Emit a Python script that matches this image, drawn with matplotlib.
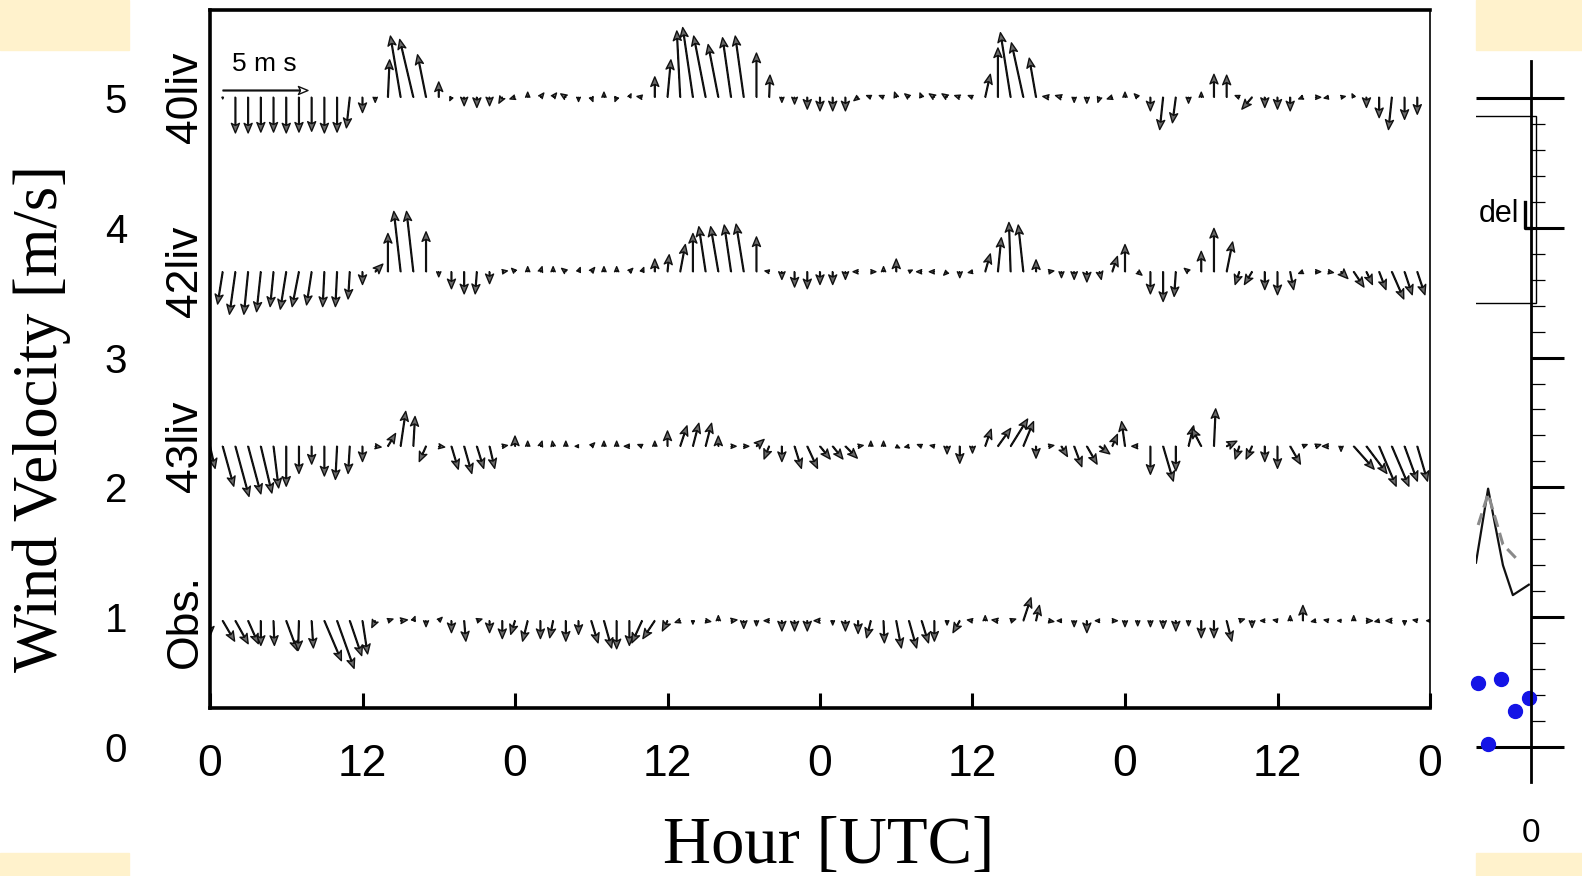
import numpy as np
import matplotlib
matplotlib.use('Agg')
import matplotlib.pyplot as plt
from matplotlib.patches import Rectangle

plt.rcParams['font.family'] = ['Liberation Sans', 'DejaVu Sans']

# hourly wind vectors (u east, v north) in m/s for each run
hours_40 = np.arange(1, 96)
u_40 = [0, 0, 0, 0, 0, 0, 0, 0, 0, 0,
        -0.2, 0, 0, 0.1, -0.6, -0.8, -0.5, 0, -0.1, 0,
        0, 0, -0.2, -0.3, 0, 0.2, 0.2, -0.3, 0, 0.1,
        0, -0.1, 0.1, -0.3, 0, 0.2, -0.2, -0.6, -0.7, -0.6,
        -0.5, -0.5, 0, 0.05, 0, 0, 0, 0, 0, 0,
        -0.25, -0.25, -0.25, -0.1, -0.25, -0.1, -0.3, -0.3, -0.3, -0.25,
        0.3, 0, -0.6, -0.7, -0.4, -0.35, -0.35, 0, 0, -0.1,
        -0.3, 0, -0.2, 0, -0.2, -0.2, 0, 0, 0, 0,
        -0.25, -0.6, 0, 0, 0, -0.25, 0.3, -0.25, 0.25, -0.1,
        0, 0, -0.2, 0, 0]
v_40 = [-0.1, -2.1, -2.1, -2.05, -2.05, -2.1, -2.05, -2.0, -2.1, -2.05,
        -1.8, -0.9, -0.3, 2.2, 3.6, 3.4, 2.5, 0.9, -0.2, -0.5,
        -0.6, -0.5, -0.35, -0.1, 0.3, 0.25, 0.25, 0.2, -0.25, -0.25,
        0.3, -0.25, 0.2, 0.05, 1.2, 2.2, 3.9, 4.1, 3.6, 3.1,
        3.5, 3.6, 2.6, 1.3, -0.3, -0.4, -0.7, -0.8, -0.8, -0.8,
        -0.2, 0.1, 0.1, 0.3, 0.2, 0.25, 0.2, 0.2, 0.1, 0.1,
        1.35, 2.9, 3.8, 3.2, 2.3, 0.05, 0.1, -0.3, -0.35, -0.3,
        -0.1, 0.3, 0.2, -0.8, -1.9, -1.5, -0.35, 0.3, 1.35, 1.3,
        0.1, -0.7, -0.6, -0.7, -0.8, -0.1, 0, -0.05, 0.05, 0.2,
        -0.6, -1.2, -1.9, -1.3, -1.0]

hours_42 = np.arange(1, 96)
u_42 = [-0.3, -0.35, -0.25, -0.25, -0.2, -0.35, -0.4, -0.3, -0.1, -0.1,
        -0.1, 0, 0.45, 0, -0.4, -0.4, 0, 0, 0, 0,
        -0.1, 0, 0.3, -0.2, 0, 0.1, 0, -0.25, 0.1, 0.2,
        0, 0, 0.2, 0.1, 0, 0.1, 0.3, 0, -0.4, -0.45,
        -0.4, -0.45, 0, -0.25, 0, 0, 0, 0, 0, 0,
        -0.3, 0.3, 0, 0, 0.2, -0.3, -0.3, -0.2, 0, -0.25,
        0.3, 0.2, -0.1, -0.3, 0, 0.3, 0, 0, 0, 0.1,
        0.3, 0, 0.25, 0, 0, -0.1, -0.25, 0, 0, 0.35,
        -0.25, -0.45, 0, 0, 0.2, -0.25, 0.3, 0.3, 0.4, 0.6,
        0.35, 0.4, 0.7, 0.45, 0.45]
v_42 = [-1.9, -2.5, -2.5, -2.35, -2.05, -2.2, -2.05, -1.95, -2.05, -2.05,
        -1.6, -0.75, 0.45, 2.25, 3.55, 3.55, 2.35, -0.3, -1.0, -1.3,
        -1.3, -0.7, 0.05, 0.2, 0.3, 0.3, 0.3, 0.2, 0.25, 0.25,
        0.3, 0.3, 0.2, 0.25, 0.75, 1.0, 1.6, 2.25, 2.65, 2.65,
        2.75, 2.8, 2.05, 0.05, -0.45, -0.9, -1.0, -0.75, -0.75, -0.45,
        0, 0, 0.3, 0.75, 0.1, 0, 0, -0.2, -0.35, -0.05,
        1.05, 2.0, 2.9, 2.75, 0.7, 0.05, -0.35, -0.45, -0.6, -0.45,
        0.9, 1.6, -0.2, -1.3, -1.75, -1.45, 0.2, 1.2, 2.55, 1.75,
        -0.75, -0.75, -1.05, -1.35, -1.05, -0.1, 0, -0.05, -0.4, -0.9,
        -0.75, -1.05, -1.6, -1.35, -1.35]

hours_43 = np.arange(0, 96)
u_43 = [0.3, 0.65, 0.8, 0.75, 0.65, 0.3, 0, 0, 0, 0,
        -0.1, -0.1, 0, 0.35, 0.45, 0.3, 0.1, -0.4, 0.35, 0.4,
        0.45, 0.4, 0.3, 0.3, 0, 0, 0.1, -0.05, 0, -0.2,
        0.2, 0, 0, -0.3, -0.25, 0, 0, 0.4, 0.35, 0.35,
        0, 0.3, 0.3, 0.45, -0.3, 0, 0.4, 0.6, 0.6, 0.6,
        0.7, 0.3, 0, 0, 0.2, -0.25, -0.25, -0.25, 0, 0,
        0, 0.35, 0.75, 1.0, 0.6, 0, 0.3, 0.35, 0.45, 0.6,
        0.6, 0.3, -0.2, -0.35, 0, 0.6, 0, 0.3, -0.55, 0.1,
        0.6, -0.25, -0.35, 0, 0, 0.6, 0.25, 0.3, -0.35, 0,
        1.2, 1.2, 1.0, 1.0, 0.75, 0.6]
v_43 = [-1.3, -2.35, -2.95, -2.8, -2.75, -2.45, -2.35, -1.6, -1.05, -1.75,
        -1.95, -1.6, -0.9, -0.05, 0.75, 2.05, 1.75, -0.9, -0.05, -1.35,
        -1.6, -1.3, -1.3, 0.05, 0.6, 0.3, 0.3, 0.3, 0.3, 0,
        0.2, 0.3, 0.3, 0, 0.1, 0.3, 0.9, 1.2, 1.35, 1.35,
        0.6, 0, 0, 0.4, -0.75, -0.9, -1.3, -1.3, -0.75, -0.75,
        -0.7, 0.05, 0.3, 0.3, -0.1, -0.05, 0.1, 0.05, -0.45, -1.0,
        -0.4, 1.0, 1.05, 1.6, 1.45, -0.7, 0.05, -0.6, -1.2, -1.05,
        -0.45, 0.7, 1.45, 0, -1.65, -2.05, -1.45, 1.2, 1.05, 2.2,
        0.3, -0.75, -0.75, -0.9, -1.3, -1.05, 0.1, 0.1, 0, -0.3,
        -1.35, -1.6, -2.35, -2.35, -2.05, -2.05]

hours_obs = np.arange(0, 97)
u_obs = [0, 0.7, 0.75, 0.6, 0, 0.05, 0.65, -0.05, 0.1, 1.0,
         1.0, 0.7, 0.3, -0.2, 0.3, 0.4, 0.1, 0, 0.2, 0,
         0.1, 0.3, 0, 0, -0.25, -0.3, 0, -0.2, 0, 0,
         0.4, 0.45, 0, 0, -0.6, -0.7, -0.3, -0.3, 0, 0.3,
         0, 0.35, 0, 0, -0.3, 0, 0, 0, -0.35, 0,
         0, 0, -0.25, 0.05, 0.3, 0.45, 0.4, 0, 0, -0.4,
         -0.3, 0, -0.35, 0.3, 0.45, 0.2, 0.3, -0.25, 0, 0,
         -0.25, 0.3, 0, 0, 0, 0, 0, 0, 0, 0,
         0.3, 0.3, 0, -0.25, -0.25, 0, 0, -0.25, -0.25, -0.2,
         0, 0.35, -0.25, -0.35, 0, -0.25, -0.2]
v_obs = [-0.9, -1.2, -1.35, -1.35, -1.45, -1.45, -1.75, -1.75, -1.6, -2.35,
         -2.8, -2.05, -1.95, -0.4, 0.1, 0.05, 0.25, -0.35, 0.2, -0.7,
         -1.2, 0.1, -0.7, -1.05, -0.8, -1.2, -1.05, -1.0, -1.2, -0.8,
         -1.3, -1.6, -1.65, -1.45, -1.3, -1.05, -0.6, -0.1, -0.2, -0.05,
         0.3, 0.05, -0.45, -0.3, 0, -0.6, -0.6, -0.6, 0, -0.25,
         -0.6, -0.75, -1.0, -1.3, -1.6, -1.6, -1.3, -1.2, -0.25, -0.7,
         0.05, 0.3, 0.05, 0.1, 1.35, 0.9, -0.05, 0, -0.35, -0.7,
         0, 0, -0.35, -0.3, -0.35, -0.45, -0.6, -0.3, -1.0, -1.0,
         -1.2, 0.1, -0.4, 0, 0.05, 0.3, 0.9, -0.05, 0.05, 0,
         0.3, 0, -0.05, 0, -0.25, 0.05, 0]

row_names = ['Obs.', '43liv', '42liv', '40liv']
xtick_hours = [0, 12, 24, 36, 48, 60, 72, 84, 96]
xtick_labels = ['0', '12', '0', '12', '0', '12', '0', '12', '0']
ref_speed = 5
velocity_ticks = [0, 1, 2, 3, 4, 5]

# piece of the neighbouring panel visible at the right edge
frag_solid_x = [-1.0, -0.78, -0.51, -0.33, -0.04]
frag_solid_y = [1.42, 1.99, 1.40, 1.17, 1.25]
frag_dash_x = [-0.96, -0.78, -0.51, -0.24]
frag_dash_y = [1.71, 1.95, 1.56, 1.44]
frag_dots_x = [-0.96, -0.55, -0.29, -0.04, -0.78]
frag_dots_y = [0.49, 0.52, 0.28, 0.38, 0.02]

W, H = 1582, 876
CREAM = '#fff2cc'


def px_box(x0, y0, x1, y1):
    # pixel box (top-left origin) -> figure fraction rect
    return [x0 / W, 1 - y1 / H, (x1 - x0) / W, (y1 - y0) / H]


fig = plt.figure(figsize=(W / 100, H / 100), dpi=100)
for x0, y0, x1, y1 in [(0, 0, 129, 50), (1476, 0, W, 50), (0, 853, 129, H), (1476, 853, W, H)]:
    fig.add_artist(Rectangle((x0 / W, 1 - y1 / H), (x1 - x0) / W, (y1 - y0) / H,
                             transform=fig.transFigure, color=CREAM, zorder=0))

# main stick plot
ax = fig.add_axes(px_box(210, 10, 1430, 708))
rows = [(hours_obs, u_obs, v_obs), (hours_43, u_43, v_43),
        (hours_42, u_42, v_42), (hours_40, u_40, v_40)]
for i, (h, u, v) in enumerate(rows):
    q = ax.quiver(h, np.full(len(h), i), u, v, angles='uv', scale_units='dots',
                  scale=1 / 17., units='dots', width=0.8, headwidth=10,
                  headlength=12, headaxislength=9.5, facecolor='#6a6a6a',
                  edgecolor='#111111', linewidths=1.0)
ax.quiverkey(q, 264.5 / W, 1 - 90 / H, ref_speed, '5 m s', labelpos='N',
             coordinates='figure', labelsep=0.14,
             fontproperties={'size': 19}, facecolor='white')

ax.set_xlim(0, 96)
ax.set_ylim(-0.5, 3.5)
ax.set_xticks(xtick_hours, xtick_labels, fontsize=32)
ax.tick_params(axis='x', direction='in', length=11, width=2.2, pad=26)
ax.set_yticks(range(4), row_names, rotation=90, va='center', fontsize=32)
ax.tick_params(axis='y', length=0, pad=3)
for side in ['left', 'top', 'bottom']:
    ax.spines[side].set_linewidth(2.6)
ax.spines['right'].set_linewidth(1.2)
ax.set_xlabel('Hour [UTC]', family='Liberation Serif', fontsize=48, va='center')
ax.xaxis.set_label_coords((829 - 210) / 1220, (708 - 847) / 698)

# velocity scale of the panel underneath (left)
ax_v = fig.add_axes(px_box(134, 98, 135, 747))
ax_v.set_ylim(0, 5)
ax_v.set_yticks(velocity_ticks, [str(t) for t in velocity_ticks], fontsize=29)
ax_v.set_xticks([])
ax_v.tick_params(axis='y', length=0, pad=5)
for s in ax_v.spines.values():
    s.set_visible(False)
ax_v.patch.set_visible(False)
ax_v.set_ylabel('Wind Velocity [m/s]', family='Liberation Serif', fontsize=45, va='center')
ax_v.yaxis.set_label_coords((42 - 134) / 1.0, (747 - 419) / 649)

# neighbouring panel fragment (right)
ax_r = fig.add_axes(px_box(1476, 61, W, 782))
ax_r.set_xlim(-1, (W - 1531) / 55)
ax_r.set_ylim(-0.27, 5.285)
for side in ['left', 'top', 'bottom']:
    ax_r.spines[side].set_visible(False)
ax_r.spines['right'].set_position(('data', 0))
ax_r.spines['right'].set_linewidth(2.0)
ax_r.yaxis.tick_right()
ax_r.set_yticks(velocity_ticks, [])
ax_r.set_yticks(np.arange(0, 5.01, 0.2), minor=True)
ax_r.tick_params(axis='y', which='major', direction='out', length=24, width=2.2)
ax_r.tick_params(axis='y', which='minor', direction='out', length=10, width=0.9)
ax_r.set_xticks([0], ['0'])
ax_r.tick_params(axis='x', length=0, pad=26, labelsize=24)
ax_r.patch.set_visible(False)
ax_r.hlines([0, 5], -1, 0, color='k', lw=2.2)
ax_r.plot(frag_solid_x, frag_solid_y, color='#111111', lw=1.6)
ax_r.plot(frag_dash_x, frag_dash_y, color='#8a8a8a', lw=2.2, ls=(0, (4, 2)))
ax_r.plot(frag_dots_x, frag_dots_y, 'o', color='#1414e6', ms=10, clip_on=False)
ax_r.add_patch(Rectangle((-1.1, 3.42), 1.19, 1.44, fill=False, lw=1.0, ec='k'))
ax_r.text(-0.945, 4.11, 'del', fontsize=22, ha='left', va='center')
ax_r.plot([-0.11, -0.11, 0], [4.2, 4.0, 4.0], color='k', lw=2.4)

fig.savefig('out.png', dpi=100)
